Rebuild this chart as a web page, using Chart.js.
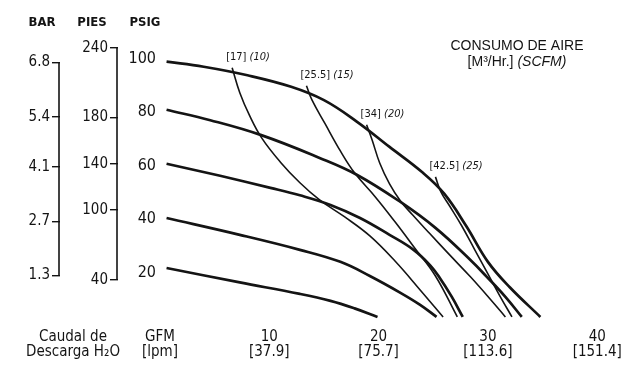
<!DOCTYPE html>
<html>
<head>
<meta charset="utf-8">
<script src="https://cdn.jsdelivr.net/npm/chart.js@4.4.0/dist/chart.umd.min.js"></script>
<style>
  html, body { margin: 0; padding: 0; background: #fff; }
</style>
</head>
<body>
<canvas id="myChart" width="630" height="366"></canvas>
<script>
// eje X: caudal en GPM, con litros/min debajo
var gpmTicks = [0, 10, 20, 30, 40];
var lpmTicks = ['[lpm]', '[37.9]', '[75.7]', '[113.6]', '[151.4]'];
// ejes Y
var psigTicks = [100, 80, 60, 40, 20];
var barTicks = [6.8, 5.4, 4.1, 2.7, 1.3];
var piesTicks = [240, 180, 140, 100, 40];

// curvas de presion [GPM, PSIG]
var curve100 = [[0.6, 98.9], [4.0, 97.0], [8.0, 93.8], [12.0, 89.5], [15.0, 84.5], [18.0, 76.5], [21.0, 67.0], [24.0, 57.5], [26.0, 49.5], [28.0, 37.5], [30.0, 24.0], [32.0, 14.5], [34.8, 3.4]];
var curve80 = [[0.6, 80.9], [4.6, 77.0], [9.2, 71.5], [14.6, 62.9], [18.0, 56.6], [22.0, 46.4], [25.2, 36.7], [28.4, 24.7], [29.9, 18.4], [31.6, 10.9], [33.1, 3.4]];
var curve60 = [[0.6, 60.7], [5.5, 56.2], [10.1, 51.7], [12.8, 48.9], [15.6, 45.3], [18.3, 40.4], [21.0, 34.1], [23.2, 28.5], [24.7, 22.8], [25.6, 18.0], [26.7, 10.9], [27.7, 3.4]];
var curve40 = [[0.6, 40.4], [7.3, 34.1], [12.8, 28.5], [16.5, 24.0], [19.2, 18.7], [22.0, 12.4], [23.8, 7.9], [25.3, 3.4]];
var curve20 = [[0.6, 21.7], [7.3, 16.3], [12.8, 12.0], [15.6, 9.4], [17.8, 6.6], [19.9, 3.4]];

// consumo de aire [GPM, PSIG]
var air17 = [[6.6, 96.6], [7.3, 87.3], [8.2, 78.7], [9.3, 70.4], [11.0, 61.4], [12.8, 53.6], [14.6, 47.2], [16.9, 40.8], [19.2, 33.7], [21.5, 24.3], [23.8, 13.5], [25.9, 3.4]];
var air25 = [[13.4, 89.9], [13.9, 84.6], [15.1, 75.7], [16.5, 65.5], [17.8, 57.3], [19.7, 48.3], [21.5, 39.0], [23.3, 29.2], [25.2, 18.7], [27.2, 3.4]];
var air34 = [[18.9, 75.3], [19.4, 69.7], [20.1, 61.0], [21.0, 53.2], [22.0, 46.8], [23.1, 41.6], [24.7, 34.5], [26.5, 26.6], [28.4, 18.4], [30.2, 10.1], [31.6, 3.4]];
var air42 = [[25.2, 55.8], [25.7, 50.2], [26.5, 44.9], [27.6, 37.5], [28.8, 28.5], [30.0, 19.5], [31.1, 11.2], [32.2, 3.4]];
var airM3 = ['17', '25.5', '34', '42.5'];
var airScfm = ['10', '15', '20', '25'];

var F = '"DejaVu Sans Condensed", "Liberation Sans Narrow", "Liberation Sans", sans-serif';
var FW = '"Liberation Sans", Arial, sans-serif';
var INK = '#141414';
Chart.defaults.font.family = F;
Chart.defaults.color = INK;

function presion(d) {
  return { data: d, borderColor: INK, borderWidth: 2.7, pointRadius: 0, tension: 0.4, yAxisID: 'psig' };
}
function aire(d) {
  return { data: d, borderColor: INK, borderWidth: 1.6, pointRadius: 0, tension: 0.4, yAxisID: 'psig' };
}
function fijar(lista) {
  return function (s) { s.ticks = lista.map(function (v) { return { value: v }; }); };
}

var textos = {
  id: 'textos',
  afterDraw: function (chart) {
    var c = chart.ctx;
    var sx = chart.scales.x, sy = chart.scales.psig, sb = chart.scales.bar, sp = chart.scales.pies;
    c.save();
    c.fillStyle = INK;
    c.strokeStyle = INK;

    // corchetes de BAR y PIES
    c.lineWidth = 1.6;
    [[sb, barTicks], [sp, piesTicks]].forEach(function (p) {
      var s = p[0], t = p[1];
      var x = s.right - 1;
      c.beginPath();
      c.moveTo(x, s.getPixelForValue(t[0]));
      c.lineTo(x, s.getPixelForValue(t[t.length - 1]));
      c.stroke();
    });

    // titulos de columnas
    c.textAlign = 'center';
    c.textBaseline = 'middle';
    c.font = 'bold 13px ' + F;
    c.fillText('BAR', sb.right - 18, 23);
    c.fillText('PIES', sp.right - 26, 23);
    c.fillText('PSIG', sy.right - 15, 23);

    // titulo eje X
    c.font = '15px ' + F;
    c.fillText('Caudal de', 73, 337);
    c.fillText('Descarga H\u2082O', 73, 352);

    // consumo de aire
    c.font = '14px ' + FW;
    c.fillText('CONSUMO DE AIRE', 517, 46);
    var a = '[M\u00b3/Hr.] ', b = '(SCFM)';
    c.font = '14px ' + FW;
    var wa = c.measureText(a).width;
    c.font = 'italic 14px ' + FW;
    var wb = c.measureText(b).width;
    var x0 = 517 - (wa + wb) / 2;
    c.textAlign = 'left';
    c.font = '14px ' + FW;
    c.fillText(a, x0, 62);
    c.font = 'italic 14px ' + FW;
    c.fillText(b, x0 + wa, 62);

    // etiquetas de cada linea de aire
    [air17, air25, air34, air42].forEach(function (d, i) {
      var px = sx.getPixelForValue(d[0][0]) - 6;
      var py = sy.getPixelForValue(d[0][1]) - 11;
      var t1 = '[' + airM3[i] + '] ';
      c.font = '11px ' + F;
      c.fillText(t1, px, py);
      var w = c.measureText(t1).width;
      c.font = 'italic 11px ' + F;
      c.fillText('(' + airScfm[i] + ')', px + w, py);
    });
    c.restore();
  }
};

var ctx = document.getElementById('myChart').getContext('2d');
var myChart = new Chart(ctx, {
  type: 'line',
  data: {
    datasets: [
      presion(curve100), presion(curve80), presion(curve60), presion(curve40), presion(curve20),
      aire(air17), aire(air25), aire(air34), aire(air42)
    ]
  },
  options: {
    responsive: false,
    animation: false,
    layout: { padding: { top: 32, right: 0, bottom: 0, left: 0 } },
    plugins: { legend: { display: false }, tooltip: { enabled: false } },
    scales: {
      x: {
        type: 'linear', min: 0, max: 43,
        grid: { display: false, drawTicks: false }, border: { display: false },
        afterBuildTicks: fijar(gpmTicks),
        afterFit: function (s) { s.height = 40; },
        ticks: {
          padding: 4, maxRotation: 0, font: { size: 15, lineHeight: 1 },
          callback: function (v) {
            var i = gpmTicks.indexOf(v);
            return [i === 0 ? 'GFM' : String(v), lpmTicks[i]];
          }
        }
      },
      psig: {
        type: 'linear', position: 'left', weight: 0, min: 0, max: 110,
        grid: { display: false, drawTicks: false }, border: { display: false },
        afterBuildTicks: fijar(psigTicks),
        afterFit: function (s) { s.width = 42; },
        ticks: { padding: 4, font: { size: 16 }, callback: function (v) { return String(v); } }
      },
      pies: {
        type: 'linear', position: 'left', weight: 1, min: 0, max: 110 * 2.307,
        grid: { display: true, drawOnChartArea: false, drawTicks: true, tickLength: 8, color: INK, lineWidth: 1.4 },
        border: { display: false },
        afterBuildTicks: fijar(piesTicks),
        afterFit: function (s) { s.width = 58; },
        ticks: { padding: 2, font: { size: 15 }, callback: function (v) { return String(v); } }
      },
      bar: {
        type: 'linear', position: 'left', weight: 2, min: 0, max: 110 / 14.504,
        grid: { display: true, drawOnChartArea: false, drawTicks: true, tickLength: 8, color: INK, lineWidth: 1.4 },
        border: { display: false },
        afterBuildTicks: fijar(barTicks),
        afterFit: function (s) { s.width = 60; },
        ticks: { padding: 2, font: { size: 15 }, callback: function (v) { return v.toFixed(1); } }
      }
    }
  },
  plugins: [textos]
});
</script>
</body>
</html>
